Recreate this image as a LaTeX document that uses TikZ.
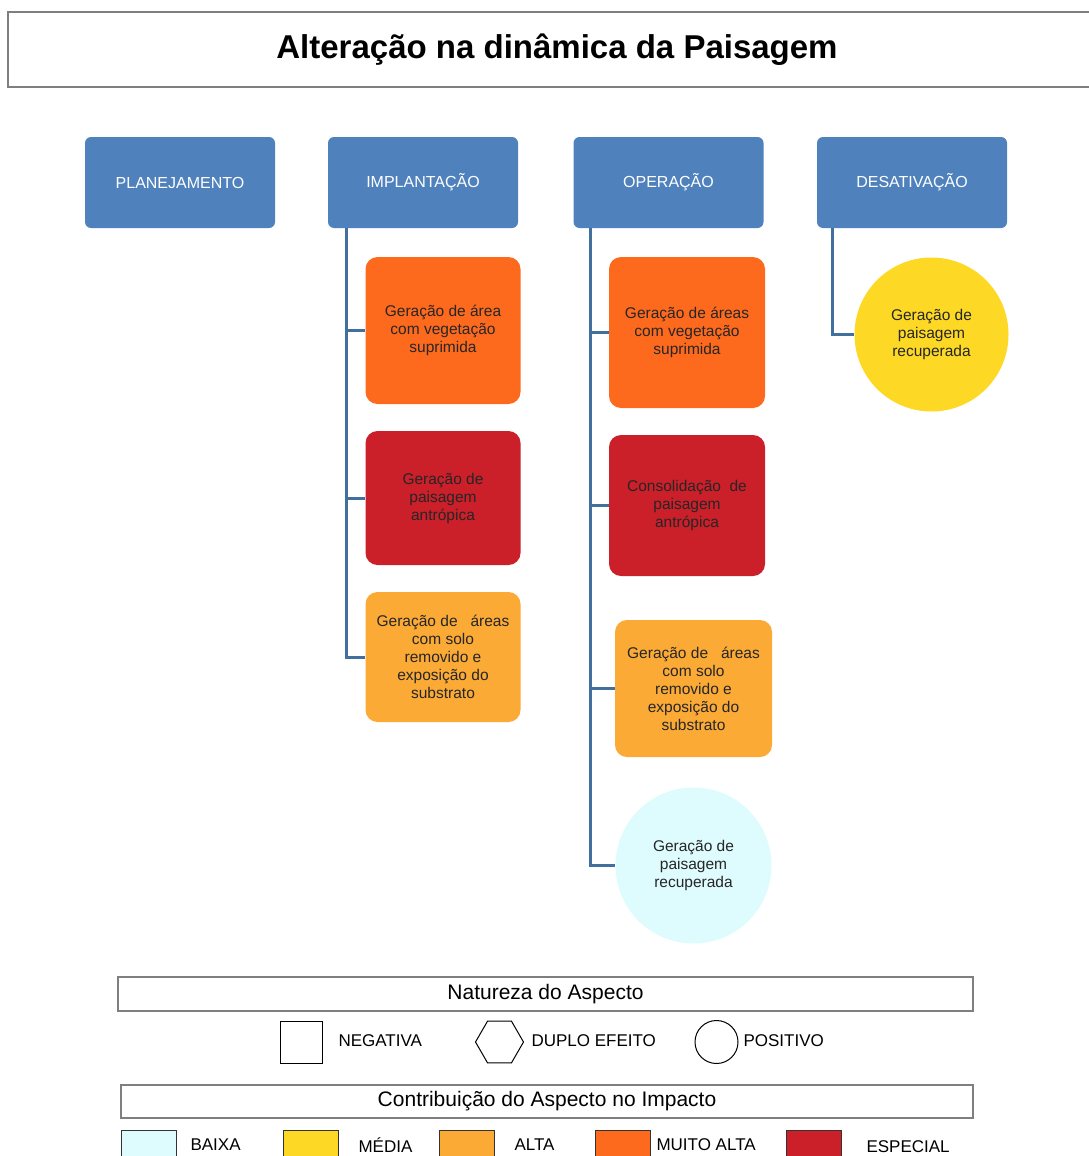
\documentclass[tikz,border=0pt]{standalone}
\usepackage{fontspec}
\setmainfont{Liberation Sans}
\usetikzlibrary{shapes.geometric}

\definecolor{faseazul}{HTML}{4F81BD}
\definecolor{ligazul}{HTML}{41709E}
\definecolor{baixa}{HTML}{DEFBFD}
\definecolor{media}{HTML}{FDD925}
\definecolor{alta}{HTML}{FBAA35}
\definecolor{muitoalta}{HTML}{FD6A1E}
\definecolor{especial}{HTML}{CB1F2A}
\definecolor{moldura}{HTML}{7F7F7F}

\tikzset{
  fase/.style={rectangle,rounded corners=6pt,fill=faseazul,text=white,
    minimum width=190pt,minimum height=91pt,font=\fontsize{16}{19}\selectfont},
  aspecto/.style={rectangle,rounded corners=12pt,minimum width=155pt,align=center,
    text=black!85,font=\fontsize{15.5}{18}\selectfont},
  positivo/.style={circle,inner sep=0pt,align=center,text=black!85,
    font=\fontsize{15.5}{18}\selectfont},
  liga/.style={draw=ligazul,line width=3pt},
  moldura/.style={draw=moldura,line width=2.5pt},
  legtexto/.style={anchor=west,font=\fontsize{17}{20}\selectfont},
}

\begin{document}
\begin{tikzpicture}[x=1pt,y=-1pt]
\useasboundingbox (0,0) rectangle (1088,1156);

% titulo
\node[moldura,minimum width=1098pt,minimum height=75pt,
  font=\bfseries\fontsize{33}{40}\selectfont] (titulo) at (557,49.5) {Alteração na dinâmica da Paisagem};

% fases
\node[fase] (planej) at (180,182.5) {PLANEJAMENTO};
\node[fase] (implant) at (423,182.5) {IMPLANTAÇÃO};
\node[fase] (operac) at (668.5,182.5) {OPERAÇÃO};
\node[fase] (desat) at (912,182.5) {DESATIVAÇÃO};

% aspectos da implantacao
\node[aspecto,fill=muitoalta,minimum height=147pt] (imp1) at (443,330.5) {Geração de área\\com vegetação\\suprimida};
\node[aspecto,fill=especial,minimum height=134pt] (imp2) at (443,498) {Geração de\\paisagem\\antrópica};
\node[aspecto,fill=alta,minimum height=130pt] (imp3) at (443,657) {Geração de \ \ áreas\\com solo\\removido e\\exposição do\\substrato};

% aspectos da operacao
\node[aspecto,fill=muitoalta,minimum width=156pt,minimum height=151pt] (op1) at (687,332.5) {Geração de áreas\\com vegetação\\suprimida};
\node[aspecto,fill=especial,minimum width=156pt,minimum height=141pt] (op2) at (687,505.5) {Consolidação \ de\\paisagem\\antrópica};
\node[aspecto,fill=alta,minimum width=157pt,minimum height=137pt] (op3) at (693.5,688.5) {Geração de \ \ áreas\\com solo\\removido e\\exposição do\\substrato};
\node[positivo,fill=baixa,minimum size=156pt] (op4) at (693.5,865.5) {Geração de\\paisagem\\recuperada};

% aspecto da desativacao
\node[positivo,fill=media,minimum size=154pt] (des1) at (931.5,334.5) {Geração de\\paisagem\\recuperada};

% ligacoes
\draw[liga] ([xshift=19pt]implant.south west) |- (imp1.west);
\draw[liga] ([xshift=19pt]implant.south west) |- (imp2.west);
\draw[liga] ([xshift=19pt]implant.south west) |- (imp3.west);
\draw[liga] ([xshift=17pt]operac.south west) |- (op1.west);
\draw[liga] ([xshift=17pt]operac.south west) |- (op2.west);
\draw[liga] ([xshift=17pt]operac.south west) |- (op3.west);
\draw[liga] ([xshift=17pt]operac.south west) |- (op4.west);
\draw[liga] ([xshift=16pt]desat.south west) |- (des1.west);

% legenda: natureza
\node[moldura,minimum width=855pt,minimum height=34pt,
  font=\fontsize{21}{24}\selectfont] (natureza) at (545.5,994) {Natureza do Aspecto};
\node[draw,line width=1pt,minimum size=42pt,inner sep=0pt] (negq) at (301.5,1042) {};
\node[legtexto] (negt) at (335,1041) {NEGATIVA};
\node[draw,line width=1pt,regular polygon,regular polygon sides=6,minimum size=48pt,inner sep=0pt] (duplo) at (499.5,1042) {};
\node[legtexto] (duplot) at (528,1041) {DUPLO EFEITO};
\node[draw,line width=1pt,circle,minimum size=43pt,inner sep=0pt] (posc) at (716.5,1042) {};
\node[legtexto] (post) at (740,1041) {POSITIVO};

% legenda: contribuicao
\node[moldura,minimum width=852pt,minimum height=33pt,
  font=\fontsize{21}{24}\selectfont] (contrib) at (547,1101.5) {Contribuição do Aspecto no Impacto};
\foreach \cor/\x/\tx/\ty/\rot in {baixa/148.5/187/1145/BAIXA,media/310.5/355/1145/MÉDIA,
    alta/467/511/1145/ALTA,muitoalta/622.5/653/1145/MUITO ALTA,especial/814/863/1147/ESPECIAL}{
  \node[draw=black!80,line width=1pt,fill=\cor,minimum width=55pt,minimum height=40pt] (q-\cor) at (\x,1150) {};
  \node[legtexto] (t-\cor) at (\tx,\ty) {\rot};
}
\end{tikzpicture}
\end{document}
